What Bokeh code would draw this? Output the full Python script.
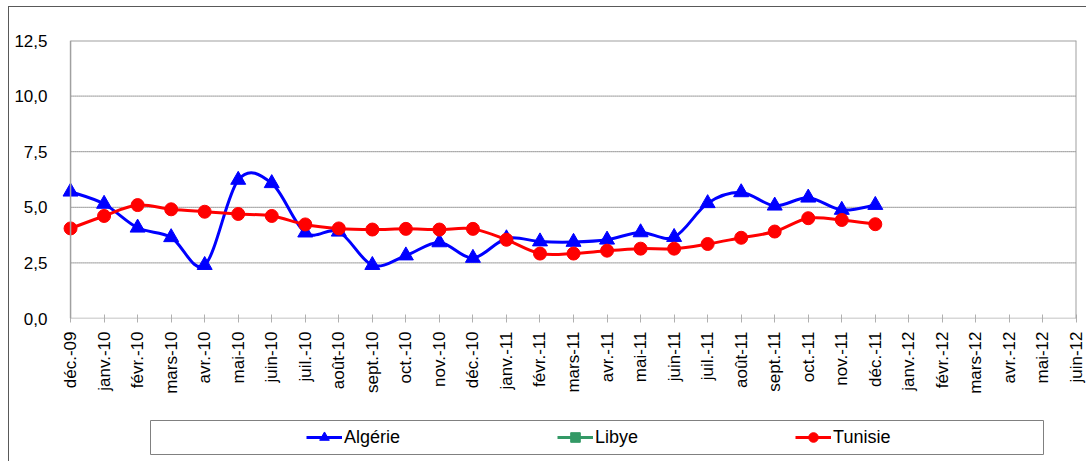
import math
from bokeh.plotting import figure
from bokeh.layouts import column
from bokeh.models import (Range1d, FixedTicker, CustomJSTickFormatter, Legend, LegendItem,
                          Span, BoxAnnotation, ColumnDataSource)
from bokeh.embed import file_html
from bokeh.resources import INLINE

# ---- data ----
months = ["déc.-09", "janv.-10", "févr.-10", "mars-10", "avr.-10", "mai-10", "juin-10",
          "juil.-10", "août-10", "sept.-10", "oct.-10", "nov.-10", "déc.-10", "janv.-11",
          "févr.-11", "mars-11", "avr.-11", "mai-11", "juin-11", "juil.-11", "août-11",
          "sept.-11", "oct.-11", "nov.-11", "déc.-11", "janv.-12", "févr.-12", "mars-12",
          "avr.-12", "mai-12", "juin-12"]
algerie = [5.7, 5.15, 4.08, 3.65, 2.4, 6.23, 6.08, 3.86, 3.9, 2.4, 2.83, 3.42, 2.72,
           3.6, 3.46, 3.44, 3.54, 3.87, 3.66, 5.18, 5.67, 5.07, 5.43, 4.88, 5.1]
libye = []
tunisie = [4.05, 4.61, 5.1, 4.91, 4.8, 4.7, 4.61, 4.23, 4.05, 4.0, 4.03, 4.0, 4.03,
           3.54, 2.92, 2.92, 3.05, 3.14, 3.14, 3.35, 3.63, 3.91, 4.51, 4.43, 4.24]
series_names = ["Algérie", "Libye", "Tunisie"]
y_ticks = [0, 2.5, 5, 7.5, 10, 12.5]

BLUE = "#0000FF"
RED = "#FF0000"
GREEN = "#339966"
FONT = "Liberation Sans"

n_cat = len(months)
xmax = n_cat - 1

p = figure(width=1077, height=405, x_range=Range1d(-0.3, xmax),
           y_range=Range1d(y_ticks[0], y_ticks[-1]),
           output_backend="svg", toolbar_location=None,
           min_border_left=51, min_border_right=10, min_border_top=33, min_border_bottom=94)
p.background_fill_color = "white"
p.border_fill_color = "white"
p.outline_line_color = None
p.xgrid.visible = False
p.ygrid.visible = False

# grid lines (dotted), frame top, and x axis line
grid_y = [t for t in y_ticks[1:-1]]
p.segment(x0=0, x1=xmax, y0=grid_y, y1=grid_y, line_color="#404040", line_width=1, line_dash="1 1")
p.segment(x0=0, x1=xmax, y0=[y_ticks[-1]], y1=[y_ticks[-1]], line_color="#a0a0a0", line_width=2)
p.segment(x0=0, x1=xmax, y0=[y_ticks[0]], y1=[y_ticks[0]], line_color="#b0b0b0", line_width=1.5)
p.add_layout(Span(location=0, dimension="height", line_color="#a0a0a0", line_width=1.5))
p.add_layout(Span(location=xmax, dimension="height", line_color="#a0a0a0", line_width=2))

# x axis
xa = p.xaxis[0]
xa.ticker = FixedTicker(ticks=list(range(n_cat)))
xa.major_label_overrides = {i: m for i, m in enumerate(months)}
xa.major_label_orientation = math.pi / 2
xa.axis_line_color = None
xa.major_tick_line_color = "#b0b0b0"
xa.major_tick_in = 4
xa.major_tick_out = 4
xa.minor_tick_line_color = None
xa.major_label_standoff = 9
xa.major_label_text_font = FONT
xa.major_label_text_font_size = "17px"
xa.major_label_text_color = "black"

# y axis
ya = p.yaxis[0]
ya.ticker = FixedTicker(ticks=y_ticks)
ya.formatter = CustomJSTickFormatter(code="return tick.toFixed(1).replace('.', ',');")
ya.axis_line_color = None
ya.major_tick_line_color = None
ya.minor_tick_line_color = None
ya.major_label_standoff = 7
ya.major_label_text_font = FONT
ya.major_label_text_font_size = "17px"
ya.major_label_text_color = "black"


def smooth_source(vals):
    xs = list(range(len(vals)))
    d = dict(x0=[], y0=[], x1=[], y1=[], cx0=[], cy0=[], cx1=[], cy1=[])
    n = len(vals)
    for i in range(n - 1):
        a = max(i - 1, 0)
        b = min(i + 2, n - 1)
        d["x0"].append(xs[i]); d["y0"].append(vals[i])
        d["x1"].append(xs[i + 1]); d["y1"].append(vals[i + 1])
        d["cx0"].append(xs[i] + (xs[i + 1] - xs[a]) / 6)
        d["cy0"].append(vals[i] + (vals[i + 1] - vals[a]) / 6)
        d["cx1"].append(xs[i + 1] - (xs[b] - xs[i]) / 6)
        d["cy1"].append(vals[i + 1] - (vals[b] - vals[i]) / 6)
    return ColumnDataSource(d)


styles = [(algerie, BLUE, "triangle", 15), (libye, GREEN, "square", 11), (tunisie, RED, "circle", 13)]
for vals, color, marker, size in styles:
    if len(vals) > 1:
        p.bezier(x0="x0", y0="y0", x1="x1", y1="y1", cx0="cx0", cy0="cy0", cx1="cx1", cy1="cy1",
                 source=smooth_source(vals), line_color=color, line_width=3, line_cap="round")
    p.scatter(x=list(range(len(vals))), y=vals, marker=marker, size=size,
              fill_color=color, line_color=color)

# ---- legend strip ----
pl = figure(width=1077, height=49, x_range=Range1d(0, 1), y_range=Range1d(0, 1),
            x_axis_type=None, y_axis_type=None, output_backend="svg", toolbar_location=None,
            min_border_left=51, min_border_right=10, min_border_top=7, min_border_bottom=6)
pl.xgrid.visible = False
pl.ygrid.visible = False
pl.outline_line_color = None
pl.background_fill_color = "white"
pl.border_fill_color = "white"

nan = float("nan")
items = []
for name, (vals, color, marker, size) in zip(series_names, styles):
    lr = pl.line(x=[nan], y=[nan], line_color=color, line_width=3)
    sr = pl.scatter(x=[nan], y=[nan], marker=marker, size=size, fill_color=color, line_color=color)
    items.append(LegendItem(label=name, renderers=[lr, sr]))

pl.add_layout(BoxAnnotation(left=90, right=983, top=35, bottom=1,
                            left_units="screen", right_units="screen",
                            top_units="screen", bottom_units="screen",
                            fill_alpha=0, line_color="#808080", line_alpha=1, line_width=1))

legend = Legend(items=items, location=(241, 1), orientation="horizontal", spacing=157,
                glyph_width=36, glyph_height=24, label_height=24, label_standoff=2,
                padding=5, border_line_alpha=0, background_fill_alpha=0,
                label_text_font=FONT, label_text_font_size="18px", label_text_color="black")
pl.add_layout(legend)

layout = column(p, pl, spacing=0, margin=(6, 0, 0, 8),
                styles={"border-top": "1px solid #595959", "border-left": "1px solid #595959"})

open("out.html", "w").write(file_html(layout, INLINE))
